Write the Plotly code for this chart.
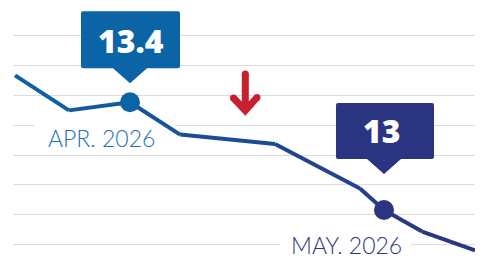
import plotly.graph_objects as go
from datetime import datetime, timedelta

# ---- data ----
dates = ["2026-03-18 10:00", "2026-03-24 19:00", "2026-04-01 00:00", "2026-04-06 22:00",
         "2026-04-18 03:00", "2026-04-28 04:00", "2026-05-01 00:00", "2026-05-05 12:00",
         "2026-05-11 18:00"]
values = [13.5, 13.37, 13.4, 13.28, 13.245, 13.08, 13.0, 12.92, 12.85]
callout_idx = [2, 6]
callout_text = ["13.4", "13"]
callout_label = ["APR. 2026", "MAY. 2026"]

OFF = 8  # default page body margin
W, H = 483 - OFF, 262 - OFF
c_start = (11, 99, 165)
c_end = (43, 52, 128)
box_colors = ["#0b64a6", "#2b3480"]
label_colors = ["#1d72b6", "#2d3a84"]
red = "#c8202f"

def mix(t):
    r = [round(a + (b - a) * t) for a, b in zip(c_start, c_end)]
    return "rgb(%d,%d,%d)" % tuple(r)

fig = go.Figure()
dts = [datetime.strptime(d, "%Y-%m-%d %H:%M") for d in dates]
t0, t1 = dts[0], dts[-1]
span = (t1 - t0).total_seconds()
n = len(dates)
for i in range(n - 1):
    tm = ((dts[i] - t0).total_seconds() + (dts[i + 1] - t0).total_seconds()) / 2 / span
    fig.add_trace(go.Scatter(x=[dates[i], dates[i + 1]], y=[values[i], values[i + 1]],
                             mode="lines", line=dict(color=mix(tm), width=4),
                             hoverinfo="skip", showlegend=False))

for k, idx in enumerate(callout_idx):
    fig.add_trace(go.Scatter(x=[dates[idx]], y=[values[idx]], mode="markers",
                             marker=dict(size=20, color=box_colors[k]),
                             showlegend=False, hoverinfo="skip"))

# axis scaling (pixel based, reference-picture pixels)
px_per_day = 8.4667
ref_day = datetime(2026, 4, 1)
ref_px = 130
x_lo = ref_day + timedelta(days=(13 - ref_px) / px_per_day)
x_hi = ref_day + timedelta(days=(483 - ref_px) / px_per_day)

k_px = 269.25  # px per unit
ref_val, ref_py = 13.4, 102.3
y_hi = ref_val + (ref_py - OFF) / k_px
y_lo = ref_val - (262 - ref_py) / k_px
grid0 = ref_val - (244.3 - ref_py) / k_px
grid_dt = 29.76 / k_px

# callout geometry (pixel offsets relative to point, up positive)
geo = [dict(l=-49, r=50, top=91, bot=34, tip=19, tx=1, ty=62, lx=-29, ly=-36,
            bl=-96, br=45, bb=-50, bt=-18),
       dict(l=-48, r=50, top=107, bot=51, tip=36, tx=-2, ty=80, lx=-38, ly=-35,
            bl=-104, br=27, bb=-48, bt=-22)]

shapes = []
annotations = []
for k, idx in enumerate(callout_idx):
    g = geo[k]
    rr = 2
    path = (f"M {g['l']+rr},{g['top']} L {g['r']-rr},{g['top']} Q {g['r']},{g['top']} {g['r']},{g['top']-rr} "
            f"L {g['r']},{g['bot']+rr} Q {g['r']},{g['bot']} {g['r']-rr},{g['bot']} "
            f"L 17,{g['bot']} L 0,{g['tip']} L -17,{g['bot']} "
            f"L {g['l']+rr},{g['bot']} Q {g['l']},{g['bot']} {g['l']},{g['bot']+rr} "
            f"L {g['l']},{g['top']-rr} Q {g['l']},{g['top']} {g['l']+rr},{g['top']} Z")
    shapes.append(dict(type="path", xref="x", yref="y", xsizemode="pixel", ysizemode="pixel",
                       xanchor=dates[idx], yanchor=values[idx], path=path,
                       fillcolor=box_colors[k], line=dict(width=0), layer="above"))
    # white backing behind the date label: above grid, below the line
    shapes.append(dict(type="rect", xref="x", yref="y", xsizemode="pixel", ysizemode="pixel",
                       xanchor=dates[idx], yanchor=values[idx],
                       x0=g["bl"], x1=g["br"], y0=g["bb"], y1=g["bt"],
                       fillcolor="white", line=dict(width=0), layer="between"))
    annotations.append(dict(x=dates[idx], y=values[idx], xref="x", yref="y", text=callout_text[k],
                            showarrow=False, xshift=g["tx"], yshift=g["ty"],
                            font=dict(family="Open Sans", size=32, color="white", weight=800)))
    annotations.append(dict(x=dates[idx], y=values[idx], xref="x", yref="y",
                            text=callout_label[k],
                            showarrow=False, xshift=g["lx"], yshift=g["ly"],
                            font=dict(family="Lato", size=23, color=label_colors[k], weight=300)))

# red down arrow (paper coords, given in reference-picture pixels)
def P(x, y):
    return f"{(x - OFF) / W:.5f},{1 - (y - OFF) / H:.5f}"

arrow_path = f"M {P(245.3, 74)} L {P(245.3, 110)} M {P(233.5, 98)} L {P(245.3, 110.5)} L {P(257, 97.5)}"
shapes.append(dict(type="path", xref="paper", yref="paper", path=arrow_path,
                   line=dict(color=red, width=7), layer="above"))
for (cx, cy) in [(245.3, 74), (233.5, 98), (257, 97.5)]:
    shapes.append(dict(type="circle", xref="paper", yref="paper",
                       x0=(cx - 3.5 - OFF) / W, x1=(cx + 3.5 - OFF) / W,
                       y0=1 - (cy + 3.5 - OFF) / H, y1=1 - (cy - 3.5 - OFF) / H,
                       fillcolor=red, line=dict(width=0), layer="above"))

fig.update_layout(
    width=W, height=H, margin=dict(l=0, r=0, t=0, b=0),
    paper_bgcolor="white", plot_bgcolor="white",
    shapes=shapes, annotations=annotations,
    xaxis=dict(range=[x_lo, x_hi], domain=[(13 - OFF) / W, 1], showgrid=False, showticklabels=False,
               zeroline=False, showline=False, ticks=""),
    yaxis=dict(range=[y_lo, y_hi], showgrid=True, gridcolor="#dcdcdc", gridwidth=1,
               tick0=grid0, dtick=grid_dt, showticklabels=False, zeroline=False,
               showline=False, ticks=""),
)
fig.write_html("out.html")
